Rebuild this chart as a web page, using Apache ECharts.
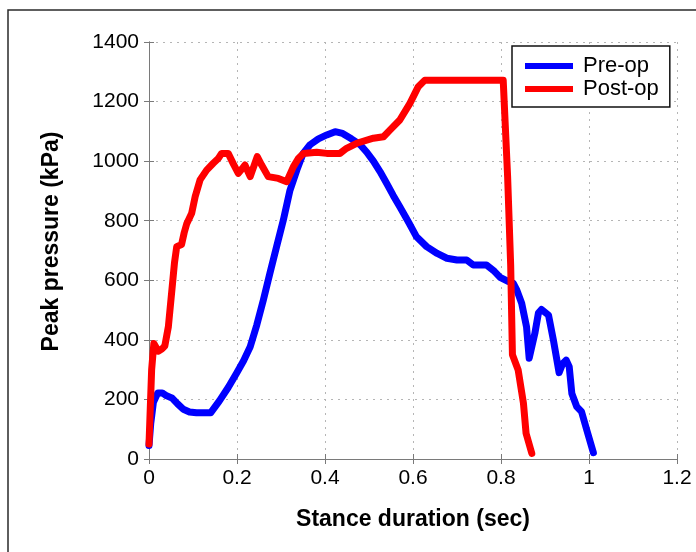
<!DOCTYPE html>
<html>
<head>
<meta charset="utf-8">
<script src="https://cdn.jsdelivr.net/npm/echarts@6/dist/echarts.min.js"></script>
<style>html,body{margin:0;padding:0;background:#fff;}#c{width:696px;height:552px;}</style>
</head>
<body>
<div id="c"></div>
<script>
const seriesNames = ['Pre-op', 'Post-op'];
const xTicks = [0, 0.2, 0.4, 0.6, 0.8, 1, 1.2];
const yTicks = [0, 200, 400, 600, 800, 1000, 1200, 1400];

const preX = [0.000,0.004,0.010,0.020,0.030,0.040,0.052,0.065,0.078,0.092,0.108,0.125,0.140,0.160,0.180,0.199,0.215,0.230,0.245,0.260,0.275,0.290,0.305,0.320,0.336,0.350,0.366,0.385,0.404,0.423,0.440,0.460,0.480,0.495,0.510,0.525,0.540,0.555,0.570,0.590,0.608,0.631,0.655,0.677,0.700,0.722,0.737,0.767,0.785,0.798,0.815,0.828,0.836,0.847,0.858,0.864,0.877,0.885,0.892,0.908,0.919,0.932,0.940,0.948,0.955,0.961,0.972,0.983,0.995,1.010];
const preY = [45,120,190,222,222,212,205,185,167,158,155,155,155,195,240,288,330,377,450,534,625,713,800,900,970,1025,1055,1075,1088,1099,1093,1075,1055,1030,1000,965,926,885,847,795,746,713,690,674,668,668,651,651,630,610,597,590,567,523,444,338,422,490,502,483,400,290,320,332,310,220,176,159,97,21];

const postX = [0.000,0.006,0.011,0.021,0.030,0.036,0.044,0.052,0.058,0.063,0.074,0.080,0.086,0.097,0.105,0.116,0.131,0.146,0.158,0.165,0.180,0.192,0.203,0.212,0.218,0.230,0.246,0.256,0.271,0.294,0.313,0.328,0.340,0.351,0.381,0.404,0.434,0.449,0.472,0.510,0.533,0.548,0.570,0.593,0.612,0.627,0.805,0.815,0.822,0.826,0.839,0.851,0.857,0.870];
const postY = [50,300,388,362,370,380,444,567,660,713,720,760,791,825,881,937,970,993,1010,1026,1026,990,959,975,987,948,1015,987,948,942,931,981,1010,1026,1030,1026,1026,1043,1060,1077,1082,1105,1138,1194,1250,1272,1272,950,650,350,299,187,86,19];

const zip = (xs, ys) => xs.map((x, i) => [x, ys[i]]);
const FONT = '"Liberation Sans", Arial, Helvetica, sans-serif';

const chart = echarts.init(document.getElementById('c'), null, {renderer: 'canvas'});
const gridLine = {show: true, lineStyle: {color: '#b5b5b5', type: [2, 5], width: 1}};
const boxLine = {show: true, lineStyle: {color: '#7a7a7a', width: 1}};
const inTick = {show: true, inside: true, length: 5, lineStyle: {color: '#7a7a7a'}};

chart.setOption({
  animation: false,
  backgroundColor: '#fff',
  graphic: [{
    type: 'rect', z: -10, silent: true,
    shape: {x: 8, y: 10, width: 720, height: 580},
    style: {fill: 'none', stroke: '#2a2a2a', lineWidth: 1.5}
  }],
  grid: {left: 149, top: 42, right: 19, bottom: 93, containLabel: false},
  legend: {
    data: seriesNames,
    orient: 'vertical',
    left: 512, top: 46,
    backgroundColor: '#fff',
    borderColor: '#111', borderWidth: 1.5,
    padding: [9, 11, 7, 13],
    itemWidth: 48, itemHeight: 6, itemGap: 1,
    icon: 'rect',
    textStyle: {fontFamily: FONT, fontSize: 22, color: '#000', lineHeight: 22, padding: [0, 0, 0, 5]}
  },
  xAxis: [{
    type: 'value', min: xTicks[0], max: xTicks[xTicks.length - 1], interval: 0.2,
    position: 'bottom',
    name: 'Stance duration (sec)', nameLocation: 'middle', nameGap: 49,
    nameTextStyle: {fontFamily: FONT, fontSize: 23, fontWeight: 'bold', color: '#000'},
    axisLine: boxLine, axisTick: inTick, splitLine: gridLine,
    axisLabel: {fontFamily: FONT, fontSize: 21, color: '#000', margin: 9,
      formatter: v => String(+v.toFixed(1))}
  }, {
    type: 'value', min: xTicks[0], max: xTicks[xTicks.length - 1], interval: 0.2,
    position: 'top',
    axisLine: boxLine, axisTick: inTick, splitLine: {show: false}, axisLabel: {show: false}
  }],
  yAxis: [{
    type: 'value', min: yTicks[0], max: yTicks[yTicks.length - 1], interval: 200,
    position: 'left',
    name: 'Peak pressure (kPa)', nameLocation: 'middle', nameGap: 86,
    nameTextStyle: {fontFamily: FONT, fontSize: 23, fontWeight: 'bold', color: '#000', padding: [0, 0, 0, 18]},
    axisLine: boxLine, axisTick: inTick, splitLine: gridLine,
    axisLabel: {fontFamily: FONT, fontSize: 21, color: '#000', margin: 10,
      formatter: v => String(v)}
  }, {
    type: 'value', min: yTicks[0], max: yTicks[yTicks.length - 1], interval: 200,
    position: 'right',
    axisLine: boxLine, axisTick: inTick, splitLine: {show: false}, axisLabel: {show: false}
  }],
  series: [{
    name: seriesNames[0], type: 'line', xAxisIndex: 0, yAxisIndex: 0,
    data: zip(preX, preY), showSymbol: false, symbol: 'none',
    color: '#0000ff', lineStyle: {color: '#0000ff', width: 7, join: 'round', cap: 'round'}, z: 3
  }, {
    name: seriesNames[1], type: 'line', xAxisIndex: 0, yAxisIndex: 0,
    data: zip(postX, postY), showSymbol: false, symbol: 'none',
    color: '#ff0000', lineStyle: {color: '#ff0000', width: 7, join: 'round', cap: 'round'}, z: 4
  }]
});
</script>
</body>
</html>
